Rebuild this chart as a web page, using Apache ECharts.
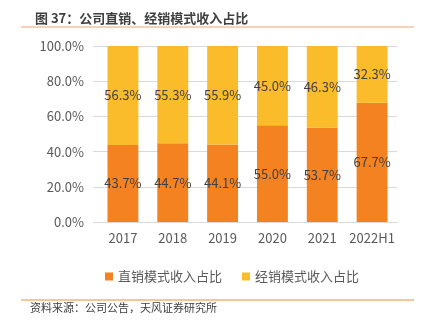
<!DOCTYPE html>
<html><head><meta charset="utf-8">
<script src="https://cdn.jsdelivr.net/npm/echarts@6/dist/echarts.min.js"></script>
<style>html,body{margin:0;padding:0;background:#fff}#c{width:428px;height:321px}</style>
</head><body><div id="c"></div>
<script>
const categories = ['2017','2018','2019','2020','2021','2022H1'];
const directShare = [43.7, 44.7, 44.1, 55.0, 53.7, 67.7];
const dealerShare = [56.3, 55.3, 55.9, 45.0, 46.3, 32.3];
const yTicks = [0, 20, 40, 60, 80, 100];
const seriesNames = ['直销模式收入占比', '经销模式收入占比'];

const font = '"Noto Sans CJK SC", "Noto Sans", sans-serif';
const chart = echarts.init(document.getElementById('c'), null, {renderer: 'canvas'});
const lbl = {show: true, position: 'inside', color: '#404040', fontSize: 13, fontFamily: font,
  formatter: p => p.value.toFixed(1) + '%'};
chart.setOption({
  animation: false,
  backgroundColor: '#fff',
  title: {text: '图 37：公司直销、经销模式收入占比', left: 30, top: 7,
    textStyle: {fontSize: 13, fontWeight: 'bold', color: '#404040', fontFamily: font}},
  graphic: [
    {type: 'line', shape: {x1: 21, y1: 27, x2: 414, y2: 27}, style: {stroke: '#F2A46C', lineWidth: 1}},
    {type: 'line', shape: {x1: 21, y1: 300, x2: 414, y2: 300}, style: {stroke: '#F08A2E', lineWidth: 1}},
    {type: 'text', left: 30, top: 302, style: {text: '资料来源：公司公告，天风证券研究所', fill: '#404040', fontSize: 11, fontFamily: font}}
  ],
  legend: {data: seriesNames, top: 265, left: 100, itemWidth: 8, itemHeight: 8, itemGap: 20,
    icon: 'rect', textStyle: {fontSize: 13, color: '#595959', fontFamily: font}},
  grid: {left: 98, right: 31, top: 46, bottom: 99},
  xAxis: {type: 'category', data: categories,
    axisLine: {lineStyle: {color: '#d9d9d9'}}, axisTick: {show: false},
    axisLabel: {interval: 0, fontSize: 13, color: '#595959', fontFamily: font, margin: 10}},
  yAxis: {type: 'value', min: 0, max: 100, interval: 20,
    axisLine: {show: false},
    axisTick: {show: true, length: 5, lineStyle: {color: '#d9d9d9'}},
    splitLine: {lineStyle: {color: '#d9d9d9'}},
    axisLabel: {fontSize: 13, color: '#595959', fontFamily: font, margin: 14,
      formatter: v => yTicks.includes(v) ? v.toFixed(1) + '%' : ''}},
  series: [
    {name: seriesNames[0], type: 'bar', stack: 'a', data: directShare, barWidth: '62%',
     itemStyle: {color: '#F58220'}, label: lbl},
    {name: seriesNames[1], type: 'bar', stack: 'a', data: dealerShare, barWidth: '62%',
     itemStyle: {color: '#FBBC2B'}, label: lbl}
  ]
});
</script></body></html>
